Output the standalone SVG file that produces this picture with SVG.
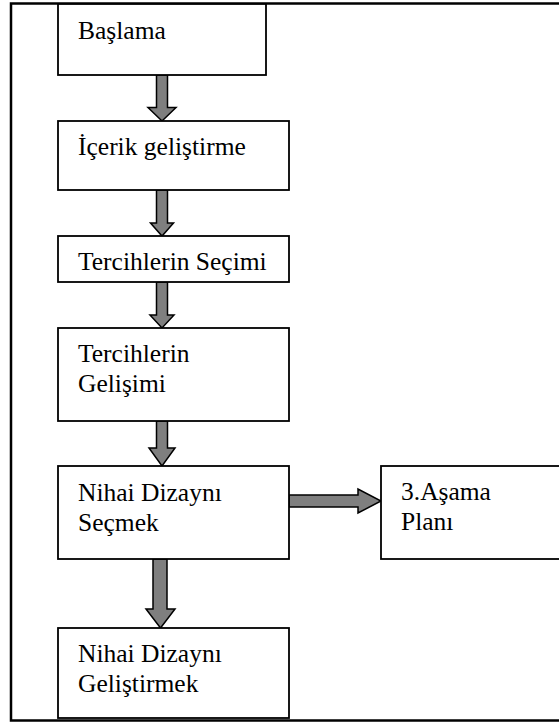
<svg xmlns="http://www.w3.org/2000/svg" width="559" height="724" viewBox="0 0 559 724">
<style>
.frame{fill:none;stroke:#000;stroke-width:2.5}
.box{fill:#fff;stroke:#000;stroke-width:1.8}
.arr{fill:#7f7f7f;stroke:#000;stroke-width:1.5;stroke-linejoin:miter}
.t{font-family:'Liberation Serif','Times New Roman',Times,serif;font-size:25.5px;fill:#000}
</style>
<rect width="559" height="724" fill="#fff"/>
<rect class="frame" x="11" y="3.5" width="560" height="717"/>
<g id="connectors">
<path class="arr" d="M156.5,75 H167.5 V107.5 H176 L162,121 L148,107.5 H156.5 Z"/>
<path class="arr" d="M156.5,190 H167.5 V223 H173.5 L162,236 L150.5,223 H156.5 Z"/>
<path class="arr" d="M156.5,282 H167.5 V315 H174 L162,328 L150,315 H156.5 Z"/>
<path class="arr" d="M156.5,421 H167.5 V448 H175 L162,466 L149,448 H156.5 Z"/>
<path class="arr" d="M153,559 H167 V609 H175 L160.5,628 L146,609 H153 Z"/>
<path class="arr" d="M289,495 H358 V489 L381,501 L358,513 V507 H289 Z"/>
</g>
<g class="t">
<g id="n1"><rect class="box" x="58" y="4" width="208" height="71"/><text x="78" y="39">Başlama</text></g>
<g id="n2"><rect class="box" x="58" y="121" width="231" height="69"/><text x="78" y="155">İçerik geliştirme</text></g>
<g id="n3"><rect class="box" x="58" y="236" width="231" height="46"/><text x="78" y="270">Tercihlerin Seçimi</text></g>
<g id="n4"><rect class="box" x="58" y="328" width="231" height="93"/><text x="78" y="362">Tercihlerin</text><text x="78" y="392">Gelişimi</text></g>
<g id="n5"><rect class="box" x="58" y="466" width="231" height="93"/><text x="78" y="501">Nihai Dizaynı</text><text x="78" y="531">Seçmek</text></g>
<g id="n6"><rect class="box" x="58" y="628" width="231" height="90"/><text x="78" y="662">Nihai Dizaynı</text><text x="78" y="692">Geliştirmek</text></g>
<g id="n7"><rect class="box" x="381" y="466" width="200" height="93"/><text x="401" y="500">3.Aşama</text><text x="401" y="530">Planı</text></g>
</g>
</svg>
